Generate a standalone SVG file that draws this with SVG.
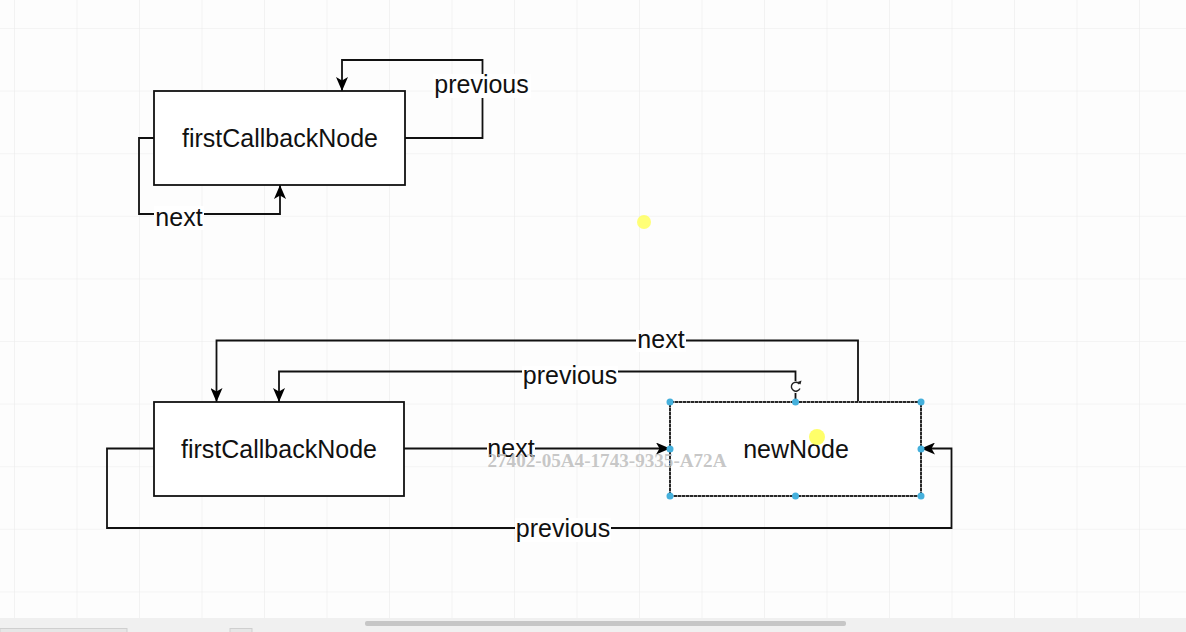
<svg xmlns="http://www.w3.org/2000/svg" width="1186" height="632" viewBox="0 0 1186 632">
<defs>
  <pattern id="grid" x="14" y="28" width="62.5" height="62.6" patternUnits="userSpaceOnUse">
    <path d="M0,0 H62.5 M0,0 V62.6" fill="none" stroke="#ececec" stroke-width="1.2"/>
  </pattern>
  <marker id="arr" viewBox="0 0 14 12" refX="14" refY="6" markerWidth="14" markerHeight="12" markerUnits="userSpaceOnUse" orient="auto">
    <path d="M0,0 L14,6 L0,12 L3.5,6 Z" fill="#000"/>
  </marker>
</defs>
<style>
  .box { fill: #fff; stroke: #111; stroke-width: 1.8; }
  .edge { fill: none; stroke: #111; stroke-width: 1.8; }
  .t { font-family: "Liberation Sans", Arial, sans-serif; font-size: 25px; fill: #111; text-anchor: middle; }
  .lbg { fill: #fff; }
  .h { fill: #45b0dc; }
</style>
<rect x="0" y="0" width="1186" height="632" fill="#fdfdfd"/>
<rect x="0" y="0" width="1186" height="618" fill="url(#grid)"/>

<g id="connectors">
  <!-- top diagram -->
  <path class="edge" d="M405,138 H482.5 V60 H342 V91" marker-end="url(#arr)"/>
  <path class="edge" d="M154,138 H139 V214 H280 V185" marker-end="url(#arr)"/>
  <!-- bottom diagram -->
  <path class="edge" d="M858,402 V340.5 H216.5 V402" marker-end="url(#arr)"/>
  <path class="edge" d="M795.5,402 V371.5 H279 V402" marker-end="url(#arr)"/>
  <path class="edge" d="M404,448.5 H670" marker-end="url(#arr)"/>
  <path class="edge" d="M154,448.5 H107 V528 H951.5 V448.5 H921" marker-end="url(#arr)"/>

  <g id="labels">
    <rect class="lbg" x="433" y="74" width="98" height="24"/>
    <text class="t" x="481.5" y="93">previous</text>
    <rect class="lbg" x="154" y="206" width="50" height="24"/>
    <text class="t" x="179" y="226">next</text>
    <rect class="lbg" x="636" y="330" width="50" height="22"/>
    <text class="t" x="661" y="348">next</text>
    <rect class="lbg" x="522" y="366" width="96" height="24"/>
    <text class="t" x="570" y="384">previous</text>
    <rect class="lbg" x="487" y="440" width="48" height="20"/>
    <text class="t" x="511" y="457">next</text>
    <rect class="lbg" x="515" y="518" width="96" height="24"/>
    <text class="t" x="563" y="537">previous</text>
  </g>
</g>

<g id="node-top-first">
  <rect class="box" x="154" y="91" width="251" height="94"/>
  <text class="t" x="280" y="147">firstCallbackNode</text>
</g>

<g id="node-bottom-first">
  <rect class="box" x="154" y="402" width="250" height="94"/>
  <text class="t" x="279" y="458">firstCallbackNode</text>
</g>

<g id="node-new">
  <rect class="box" x="670" y="402" width="251" height="94"/>
  <rect x="670" y="402" width="251" height="94" fill="none" stroke="#fff" stroke-width="1" stroke-dasharray="1 3"/>
  <text class="t" x="796" y="458">newNode</text>
  <g id="selection-handles">
    <circle class="h" cx="670" cy="402" r="3.5"/>
    <circle class="h" cx="795.5" cy="402" r="3.5"/>
    <circle class="h" cx="921" cy="402" r="3.5"/>
    <circle class="h" cx="670" cy="449" r="3.5"/>
    <circle class="h" cx="921" cy="449" r="3.5"/>
    <circle class="h" cx="670" cy="496" r="3.5"/>
    <circle class="h" cx="795.5" cy="496" r="3.5"/>
    <circle class="h" cx="921" cy="496" r="3.5"/>
  </g>
  <g id="rotate-handle">
    <circle cx="795.5" cy="387" r="6" fill="#fff"/>
    <path d="M799.5,384 A4.5,4.5 0 1 0 800,388.5" fill="none" stroke="#222" stroke-width="1.4"/>
    <path d="M797.5,382 L800.5,384.5 L801.5,380.5 Z" fill="#222"/>
  </g>
</g>

<text x="607" y="466.5" font-family="'Liberation Serif', 'Times New Roman', serif" font-weight="bold" font-size="18" fill="#bdbdbd" fill-opacity="0.85" text-anchor="middle" textLength="239" lengthAdjust="spacingAndGlyphs">27402-05A4-1743-9335-A72A</text>

<circle cx="644" cy="222" r="7" fill="#ffff55" fill-opacity="0.8"/>
<circle cx="817" cy="437" r="8" fill="#ffff44" fill-opacity="0.8"/>

<rect x="0" y="618" width="1186" height="14" fill="#f0f0f0"/>
<rect x="365" y="621" width="481" height="5" rx="2" fill="#c6c6c6"/>
<rect x="0" y="628.5" width="127" height="4" fill="#e6e6e6" stroke="#cfcfcf" stroke-width="1"/>
<rect x="230" y="628.5" width="22" height="4" fill="#e6e6e6" stroke="#cfcfcf" stroke-width="1"/>
</svg>
